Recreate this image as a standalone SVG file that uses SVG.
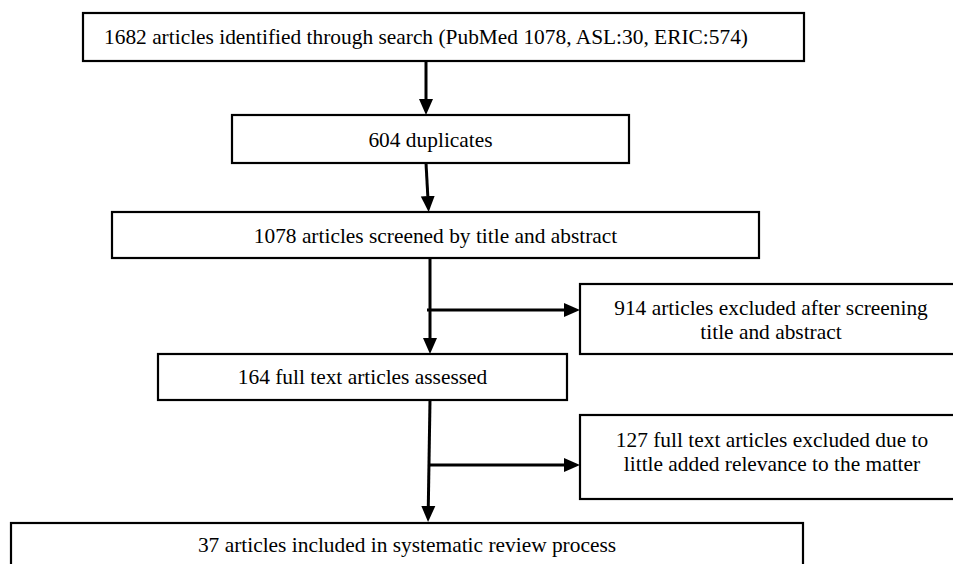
<svg xmlns="http://www.w3.org/2000/svg" width="953" height="564" viewBox="0 0 953 564">
<style>
.box{fill:#fff;stroke:#000;stroke-width:2.2}
.t{font-family:"Liberation Serif","Times New Roman",serif;font-size:21.4px;fill:#000}
.c{text-anchor:middle}
.conn{stroke:#000;stroke-width:3;fill:none}
</style>
<defs>
<marker id="ah" markerUnits="userSpaceOnUse" markerWidth="16" markerHeight="16" viewBox="0 0 16 16" refX="0" refY="8" orient="auto">
<path d="M0,1 L16,8 L0,15 z" fill="#000"/>
</marker>
</defs>
<rect width="953" height="564" fill="#fff"/>
<g id="connectors">
<line class="conn" x1="426" y1="61" x2="426" y2="99" marker-end="url(#ah)"/>
<line class="conn" x1="426" y1="163" x2="427.8" y2="196" marker-end="url(#ah)"/>
<line class="conn" x1="430" y1="258" x2="430" y2="338" marker-end="url(#ah)"/>
<line class="conn" x1="427" y1="310" x2="564" y2="310" marker-end="url(#ah)"/>
<line class="conn" x1="430" y1="400" x2="428.3" y2="506" marker-end="url(#ah)"/>
<line class="conn" x1="429" y1="465" x2="564" y2="465" marker-end="url(#ah)"/>
</g>
<g id="identified">
<rect class="box" x="83" y="13" width="721" height="48"/>
<text class="t" x="104" y="44">1682 articles identified through search (PubMed 1078, ASL:30, ERIC:574)</text>
</g>
<g id="duplicates">
<rect class="box" x="232" y="115" width="397" height="48"/>
<text class="t c" x="430.5" y="147">604 duplicates</text>
</g>
<g id="screened">
<rect class="box" x="112" y="212" width="647" height="46"/>
<text class="t c" x="435.5" y="243">1078 articles screened by title and abstract</text>
</g>
<g id="excluded1">
<rect class="box" x="580" y="284" width="385" height="70"/>
<text class="t c" x="771" y="315">914 articles excluded after screening</text>
<text class="t c" x="771" y="339">title and abstract</text>
</g>
<g id="assessed">
<rect class="box" x="158" y="354" width="409" height="46"/>
<text class="t c" x="362.5" y="384">164 full text articles assessed</text>
</g>
<g id="excluded2">
<rect class="box" x="580" y="415" width="385" height="84"/>
<text class="t c" x="772" y="447">127 full text articles excluded due to</text>
<text class="t c" x="772" y="471">little added relevance to the matter</text>
</g>
<g id="included">
<rect class="box" x="11" y="523" width="792" height="50"/>
<text class="t c" x="407" y="552">37 articles included in systematic review process</text>
</g>
</svg>
